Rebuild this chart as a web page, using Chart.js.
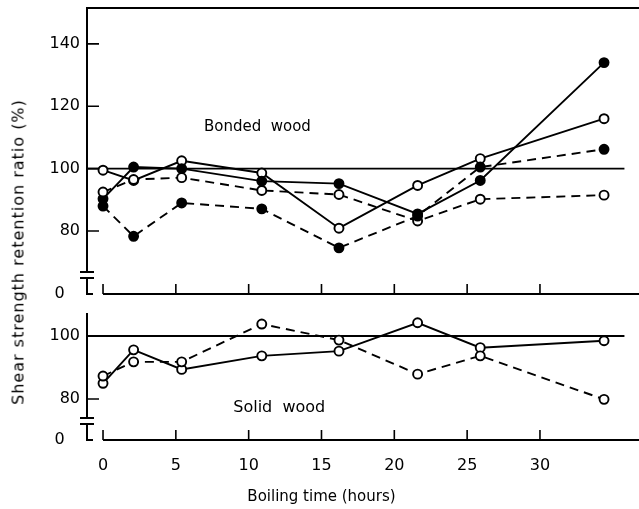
<!DOCTYPE html>
<html>
<head>
<meta charset="utf-8">
<script src="https://cdn.jsdelivr.net/npm/chart.js@4.4.1/dist/chart.umd.min.js"></script>
<style>
  body { margin: 0; background: #fff; }
  #wrap { position: relative; width: 639px; height: 509px; overflow: hidden; }
  #topChart { position: absolute; left: 0; top: 0; }
  #bottomChart { position: absolute; left: 0; top: 305px; }
  #yTitle {
    position: absolute; left: 18px; top: 252px;
    transform: translate(-50%, -50%) rotate(-90deg);
    font: 16px "DejaVu Sans", sans-serif; letter-spacing: 1px;
    white-space: nowrap; color: #000;
  }
</style>
</head>
<body>
<div id="wrap">
  <canvas id="topChart" width="639" height="305"></canvas>
  <canvas id="bottomChart" width="639" height="204"></canvas>
  <div id="yTitle">Shear strength retention ratio (%)</div>
</div>
<script>
// boiling time of each measurement, as placed on the axis
var hours = [0, 2.1, 5.4, 10.9, 16.2, 21.6, 25.9, 34.4];

// bonded wood (upper panel)
var bondedSolidOpen    = [99.5, 96.2, 102.5, 98.6, 80.9, 94.6, 103.2, 116];
var bondedSolidFilled  = [90.3, 100.5, 100, 96, 95.2, 85.5, 96.2, 134];
var bondedDashedOpen   = [92.5, 96.5, 97.1, 93, 91.7, 83.2, 90.2, 91.5];
var bondedDashedFilled = [88, 78.3, 89, 87.1, 74.6, 84.8, 100.5, 106.2];

// solid wood (lower panel)
var solidSolidOpen  = [85, 95.6, 89.4, 93.7, 95.2, 104.2, 96.3, 98.5];
var solidDashedOpen = [87.3, 91.8, 91.8, 103.8, 98.7, 87.9, 93.7, 79.9];

var xTicks = [0, 5, 10, 15, 20, 25, 30];
var topYTicks = [80, 100, 120, 140];
var bottomYTicks = [80, 100];
var referenceLevel = 100;

var FONT = '"DejaVu Sans", sans-serif';

function makeDataset(values, dashed, filled) {
    return {
        data: values.map(function(v, i) { return {x: hours[i], y: v}; }),
        borderColor: '#000',
        borderWidth: 1.9,
        borderDash: dashed ? [9, 6] : [],
        pointRadius: 4.5,
        pointBorderWidth: 1.9,
        pointBorderColor: '#000',
        pointBackgroundColor: filled ? '#000' : '#fff',
        tension: 0,
        fill: false
    };
}

// axes with breaks, inward ticks, 100 % line and panel label
var axisPlugin = {
    id: 'axisPlugin',
    beforeDatasetsDraw: function(chart, args, opts) {
        var ctx = chart.ctx, area = chart.chartArea;
        var xs = chart.scales.x, ys = chart.scales.y;
        var left = area.left, bottom = area.bottom;
        ctx.save();
        ctx.strokeStyle = '#000';
        ctx.lineCap = 'butt';

        // 100 % reference line
        ctx.lineWidth = 1.8;
        var yRef = ys.getPixelForValue(referenceLevel);
        ctx.beginPath();
        ctx.moveTo(left, yRef);
        ctx.lineTo(xs.getPixelForValue(opts.refEnd), yRef);
        ctx.stroke();

        ctx.lineWidth = 2;
        ctx.beginPath();
        if (opts.frameTop) {
            ctx.moveTo(area.right, area.top);
            ctx.lineTo(left, area.top);
        } else {
            ctx.moveTo(left, area.top);
        }
        // y axis down to the break
        ctx.lineTo(left, bottom - 22);
        ctx.moveTo(left - 7, bottom - 22);
        ctx.lineTo(left + 7, bottom - 22);
        ctx.moveTo(left - 7, bottom - 16);
        ctx.lineTo(left + 7, bottom - 16);
        ctx.moveTo(left, bottom - 16);
        ctx.lineTo(left, bottom);
        ctx.lineTo(left + 6, bottom);
        // x axis
        var x0 = xs.getPixelForValue(xTicks[0]);
        ctx.moveTo(x0, bottom);
        ctx.lineTo(area.right, bottom);
        ctx.stroke();

        ctx.lineWidth = 1.6;
        ctx.beginPath();
        xTicks.forEach(function(t) {
            var px = xs.getPixelForValue(t);
            ctx.moveTo(px, bottom);
            ctx.lineTo(px, bottom - 10);
        });
        opts.yTicks.forEach(function(t) {
            var py = ys.getPixelForValue(t);
            ctx.moveTo(left, py);
            ctx.lineTo(left + 12, py);
        });
        ctx.stroke();

        ctx.fillStyle = '#000';
        ctx.textAlign = 'center';
        ctx.textBaseline = 'middle';
        ctx.font = opts.labelSize + 'px ' + FONT;
        ctx.fillText(opts.label, xs.getPixelForValue(opts.labelAt[0]), ys.getPixelForValue(opts.labelAt[1]));
        if (opts.xTitle) {
            ctx.font = '15px ' + FONT;
            ctx.fillText(opts.xTitle, xs.getPixelForValue(15), chart.height - 12);
        }
        ctx.restore();
    }
};

function noPadding(s) {
    s.paddingLeft = 0; s.paddingRight = 0; s.paddingTop = 0; s.paddingBottom = 0;
}

function makeOptions(cfg) {
    return {
        responsive: false,
        animation: false,
        layout: { autoPadding: false, padding: { top: 8, left: 0, right: 0, bottom: 0 } },
        plugins: {
            legend: { display: false },
            tooltip: { enabled: false },
            axisPlugin: cfg.plugin
        },
        scales: {
            x: {
                type: 'linear',
                min: -1.1,
                max: 36.8,
                afterBuildTicks: function(s) { s.ticks = xTicks.map(function(v) { return {value: v}; }); },
                grid: { display: false, drawTicks: false },
                border: { display: false },
                ticks: {
                    display: cfg.xLabels,
                    padding: 16,
                    color: '#000',
                    maxRotation: 0,
                    font: { family: FONT, size: 16 }
                },
                afterFit: function(s) { s.height = cfg.xHeight; noPadding(s); }
            },
            y: {
                type: 'linear',
                min: cfg.yMin,
                max: cfg.yMax,
                afterBuildTicks: function(s) {
                    s.ticks = [{value: cfg.yMin}].concat(cfg.plugin.yTicks.map(function(v) { return {value: v}; }));
                },
                grid: { display: false, drawTicks: false },
                border: { display: false },
                ticks: {
                    padding: 7,
                    color: '#000',
                    font: { family: FONT, size: 16, lineHeight: 1 },
                    callback: function(v) { return v === cfg.yMin ? '0   ' : String(v); }
                },
                afterFit: function(s) { s.width = 87; noPadding(s); }
            }
        }
    };
}

new Chart(document.getElementById('topChart'), {
    type: 'line',
    data: {
        datasets: [
            makeDataset(bondedDashedFilled, true, true),
            makeDataset(bondedDashedOpen, true, false),
            makeDataset(bondedSolidFilled, false, true),
            makeDataset(bondedSolidOpen, false, false)
        ]
    },
    options: makeOptions({
        yMin: 59.8, yMax: 151.5, xHeight: 11, xLabels: false,
        plugin: { frameTop: true, yTicks: topYTicks, refEnd: 35.8,
                  label: 'Bonded  wood', labelSize: 15, labelAt: [10.6, 113.4] }
    }),
    plugins: [axisPlugin]
});

new Chart(document.getElementById('bottomChart'), {
    type: 'line',
    data: {
        datasets: [
            makeDataset(solidDashedOpen, true, false),
            makeDataset(solidSolidOpen, false, false)
        ]
    },
    options: makeOptions({
        yMin: 67.0, yMax: 107.3, xHeight: 69, xLabels: true,
        plugin: { frameTop: false, yTicks: bottomYTicks, refEnd: 35.8,
                  label: 'Solid  wood', labelSize: 16, labelAt: [12.1, 77.1],
                  xTitle: 'Boiling time (hours)' }
    }),
    plugins: [axisPlugin]
});
</script>
</body>
</html>
